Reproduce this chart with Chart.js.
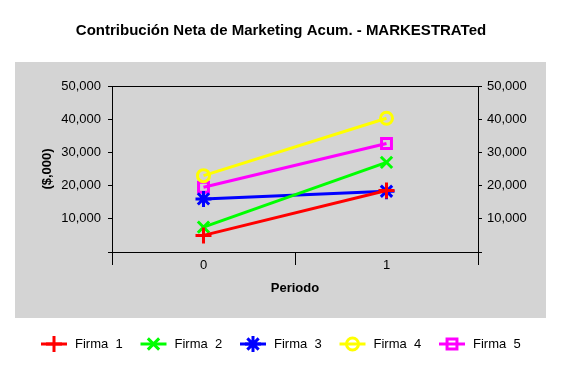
<!DOCTYPE html>
<html>
<head>
<meta charset="utf-8">
<script src="https://cdn.jsdelivr.net/npm/chart.js@4/dist/chart.umd.min.js"></script>
<style>
  html, body { margin: 0; padding: 0; background: #ffffff; }
  #wrap { width: 562px; height: 372px; }
</style>
</head>
<body>
<div id="wrap"><canvas id="grafica" width="562" height="372"></canvas></div>
<script>
// datos
const periodos = ["0", "1"];
const firmas = ["Firma  1", "Firma  2", "Firma  3", "Firma  4", "Firma  5"];
const firma1 = [5000, 18500];
const firma2 = [7500, 27000];
const firma3 = [16000, 18300];
const firma4 = [23000, 40300];
const firma5 = [19500, 32700];
const ticksY = [0, 10000, 20000, 30000, 40000, 50000];

const colores = ["#ff0000", "#00ff00", "#0000ff", "#ffff00", "#ff00ff"];
const marcas = ["cross", "crossRot", "star", "circle", "rect"];
const radios = [8, 8, 8, 6, 7];
const series = [firma1, firma2, firma3, firma4, firma5];

const fuente = "'Liberation Sans', Arial, sans-serif";
Chart.defaults.font.family = fuente;
Chart.defaults.font.size = 13;
Chart.defaults.color = "#000000";

// fondo gris y marco del area de la grafica
const fondoGris = {
    id: "fondoGris",
    beforeDraw(chart) {
        const ctx = chart.ctx;
        ctx.save();
        ctx.fillStyle = "#d4d4d4";
        ctx.fillRect(15, 62, 531, 256);
        ctx.restore();
    },
    afterDatasetsDraw(chart) {
        const a = chart.chartArea;
        const ctx = chart.ctx;
        ctx.save();
        ctx.strokeStyle = "#000000";
        ctx.lineWidth = 1;
        ctx.beginPath();
        ctx.moveTo(Math.round(a.left) + 0.5, Math.round(a.top) + 0.5);
        ctx.lineTo(Math.round(a.right) + 0.5, Math.round(a.top) + 0.5);
        ctx.stroke();
        ctx.restore();
    }
};

// leyenda abajo con linea y marca, como en Excel
const leyendaLinea = {
    id: "leyendaLinea",
    afterDraw(chart) {
        const ctx = chart.ctx;
        const y = 344;
        ctx.save();
        ctx.font = "13px " + fuente;
        ctx.textBaseline = "middle";
        ctx.textAlign = "left";
        chart.data.datasets.forEach((ds, i) => {
            const x = 41 + i * 99.5;
            ctx.strokeStyle = ds.borderColor;
            ctx.lineWidth = 3;
            ctx.beginPath();
            ctx.moveTo(x, y);
            ctx.lineTo(x + 26, y);
            ctx.stroke();
            ctx.fillStyle = "rgba(0,0,0,0)";
            Chart.helpers.drawPoint(ctx, {
                pointStyle: ds.pointStyle,
                radius: ds.pointRadius,
                borderWidth: 3,
                rotation: 0
            }, x + 13, y);
            ctx.fillStyle = "#000000";
            ctx.fillText(ds.label, x + 34, y);
        });
        ctx.restore();
    }
};

const datasets = series.map((datos, i) => ({
    label: firmas[i],
    data: datos,
    borderColor: colores[i],
    backgroundColor: colores[i],
    borderWidth: 3,
    pointStyle: marcas[i],
    pointRadius: radios[i],
    pointBorderWidth: 3,
    pointBackgroundColor: "rgba(0,0,0,0)",
    pointBorderColor: colores[i],
    tension: 0,
    yAxisID: "y"
}));

const formatoY = (v) => v === 0 ? "" : v.toLocaleString("en-US");

new Chart(document.getElementById("grafica"), {
    type: "line",
    data: { labels: periodos, datasets: datasets },
    plugins: [fondoGris, leyendaLinea],
    options: {
        responsive: false,
        animation: false,
        devicePixelRatio: 1,
        layout: { padding: { left: 0, right: 0, top: 0, bottom: 54 } },
        plugins: {
            legend: { display: false },
            tooltip: { enabled: false },
            title: {
                display: true,
                text: "Contribución Neta de Marketing Acum. - MARKESTRATed",
                font: { size: 15, weight: "bold" },
                color: "#000000",
                padding: { top: 21.5, bottom: 46.5 }
            }
        },
        scales: {
            x: {
                type: "category",
                offset: true,
                grid: {
                    offset: true,
                    drawOnChartArea: false,
                    tickLength: 13,
                    color: "#000000"
                },
                border: { color: "#000000" },
                ticks: { padding: -7, color: "#000000", font: { size: 13 } },
                title: {
                    display: true,
                    text: "Periodo",
                    font: { size: 13, weight: "bold" },
                    color: "#000000",
                    padding: { top: 0, bottom: 22 }
                },
                afterFit(scale) { scale.height = 66; }
            },
            y: {
                position: "left",
                min: 0,
                max: 50000,
                afterBuildTicks(scale) { scale.ticks = ticksY.map(v => ({ value: v })); },
                grid: { drawOnChartArea: false, tickLength: 4, color: "#000000" },
                border: { color: "#000000" },
                ticks: { padding: 7, color: "#000000", font: { size: 13 }, callback: formatoY },
                title: {
                    display: true,
                    text: "($,000)",
                    font: { size: 13, weight: "bold" },
                    color: "#000000",
                    padding: { top: 40, bottom: 0 }
                },
                afterFit(scale) { scale.width = 112; }
            },
            y2: {
                position: "right",
                min: 0,
                max: 50000,
                afterBuildTicks(scale) { scale.ticks = ticksY.map(v => ({ value: v })); },
                grid: { drawOnChartArea: false, tickLength: 4, color: "#000000" },
                border: { color: "#000000" },
                ticks: { padding: 5, color: "#000000", font: { size: 13 }, callback: formatoY },
                afterFit(scale) { scale.width = 84; }
            }
        }
    }
});
</script>
</body>
</html>
